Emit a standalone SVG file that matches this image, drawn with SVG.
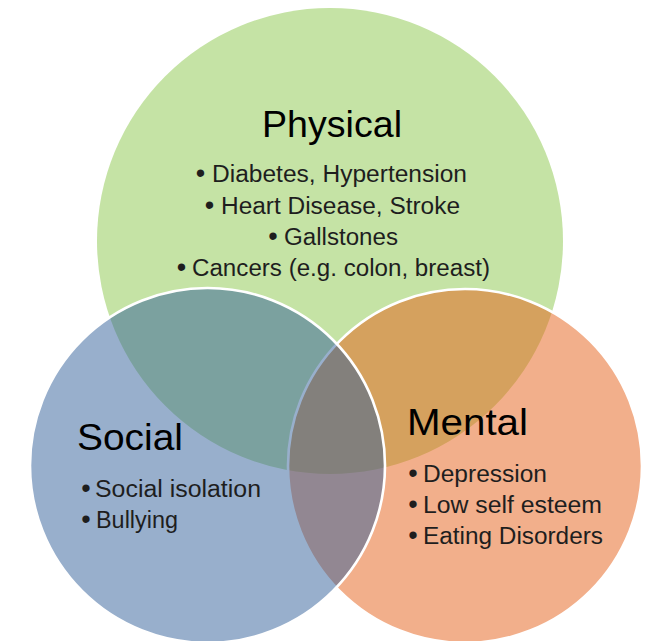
<svg xmlns="http://www.w3.org/2000/svg" width="646" height="641" viewBox="0 0 646 641">
<style>
.head{font-family:"Liberation Sans",Arial,sans-serif;font-size:37px;fill:#000}
.item{font-family:"Liberation Sans",Arial,sans-serif;font-size:23px;fill:#1e1e1e}
.bul{font-family:"Liberation Sans",Arial,sans-serif;font-size:27px;fill:#1e1e1e;text-anchor:middle}
.ring{stroke:#fff;stroke-width:2.6}
</style>
<rect width="646" height="641" fill="#fff"/>
<g id="physical">
<circle cx="330" cy="241" r="233" fill="#c5e3a5"/>
<text class="head" x="262" y="137" textLength="140" lengthAdjust="spacingAndGlyphs">Physical</text>
<text class="bul" x="200.5" y="182">•</text>
<text class="item" x="212" y="182" textLength="255" lengthAdjust="spacingAndGlyphs">Diabetes, Hypertension</text>
<text class="bul" x="209.5" y="214">•</text>
<text class="item" x="221" y="214" textLength="239" lengthAdjust="spacingAndGlyphs">Heart Disease, Stroke</text>
<text class="bul" x="273" y="245">•</text>
<text class="item" x="284" y="245" textLength="114" lengthAdjust="spacingAndGlyphs">Gallstones</text>
<text class="bul" x="181.5" y="276">•</text>
<text class="item" x="192" y="276" textLength="298" lengthAdjust="spacingAndGlyphs">Cancers (e.g. colon, breast)</text>
</g>
<g id="mental">
<circle class="ring" cx="465" cy="466" r="177" fill="#e55f17" fill-opacity="0.5"/>
<text class="head" x="407" y="435" textLength="121" lengthAdjust="spacingAndGlyphs">Mental</text>
<text class="bul" x="413" y="482">•</text>
<text class="item" x="423" y="482" textLength="124" lengthAdjust="spacingAndGlyphs">Depression</text>
<text class="bul" x="413" y="513">•</text>
<text class="item" x="423" y="513" textLength="179" lengthAdjust="spacingAndGlyphs">Low self esteem</text>
<text class="bul" x="413" y="544">•</text>
<text class="item" x="423" y="544" textLength="180" lengthAdjust="spacingAndGlyphs">Eating Disorders</text>
</g>
<g id="social">
<circle class="ring" cx="207.5" cy="465.5" r="177.5" fill="#315f99" fill-opacity="0.5"/>
<text class="head" x="77" y="450" textLength="106" lengthAdjust="spacingAndGlyphs">Social</text>
<text class="bul" x="86" y="497">•</text>
<text class="item" x="95" y="497" textLength="166" lengthAdjust="spacingAndGlyphs">Social isolation</text>
<text class="bul" x="86" y="528">•</text>
<text class="item" x="96" y="528" textLength="82" lengthAdjust="spacingAndGlyphs">Bullying</text>
</g>
</svg>
